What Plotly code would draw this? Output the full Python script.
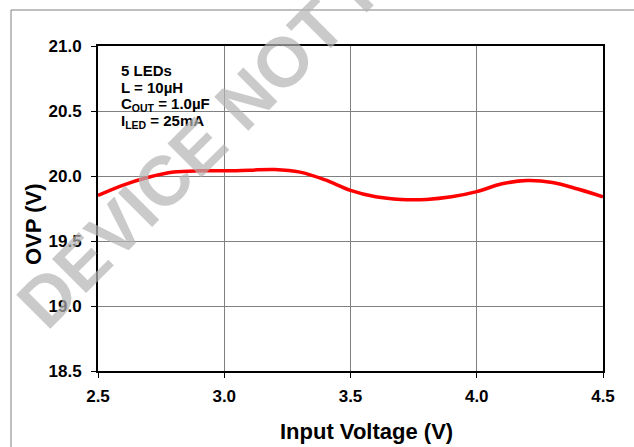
import plotly.graph_objects as go

# Data
vin = [2.5, 2.6, 2.7, 2.8, 2.9, 3.0, 3.1, 3.2, 3.3, 3.4, 3.5, 3.6, 3.7, 3.8, 3.9, 4.0, 4.1, 4.2, 4.3, 4.4, 4.5]
ovp = [19.85, 19.93, 19.99, 20.03, 20.04, 20.04, 20.045, 20.05, 20.03, 19.97, 19.89, 19.84, 19.82, 19.82, 19.84, 19.88, 19.94, 19.965, 19.95, 19.90, 19.84]
x_ticks = [2.5, 3.0, 3.5, 4.0, 4.5]
x_tick_text = ["2.5", "3.0", "3.5", "4.0", "4.5"]
y_ticks = [18.5, 19.0, 19.5, 20.0, 20.5, 21.0]
y_tick_text = ["18.5", "19.0", "19.5", "20.0", "20.5", "21.0"]
note_lines = ["5 LEDs", "L = 10µH", "C<sub>OUT</sub> = 1.0µF", "I<sub>LED</sub> = 25mA"]

W, H = 634, 447
L, R, T, B = 98, 31, 46, 76
pw, ph = W - L - R, H - T - B

def px(x):
    return (x - L) / pw

def py(y):
    return (H - B - y) / ph

FONT = "Liberation Sans, Arial, sans-serif"

fig = go.Figure()
fig.add_trace(go.Scatter(
    x=vin, y=ovp, mode="lines",
    line=dict(color="#ff0000", width=3.5, shape="spline", smoothing=1.0),
    showlegend=False, hoverinfo="skip"))

axis_common = dict(
    showline=True, linecolor="black", linewidth=2, mirror=True,
    showgrid=True, gridcolor="#808080", gridwidth=1,
    ticks="outside", ticklen=5, tickcolor="black", tickwidth=1,
    zeroline=False,
    tickfont=dict(family=FONT, size=17, color="black", weight="bold"),
)

annotations = [
    dict(text="Input Voltage (V)", xref="paper", yref="paper", x=px(366), y=py(432),
         xanchor="center", yanchor="middle",
         showarrow=False, font=dict(family=FONT, size=22, color="black", weight="bold")),
    dict(text="OVP (V)", xref="paper", yref="paper", x=px(33), y=py(224), textangle=-90,
         xanchor="center", yanchor="middle",
         showarrow=False, font=dict(family=FONT, size=22, color="black", weight="bold")),
]
for i, t in enumerate(note_lines):
    annotations.append(dict(
        text=t, xref="paper", yref="paper", x=px(119), y=py(70 + 17.3 * i),
        xanchor="left", yanchor="middle", align="left", showarrow=False,
        font=dict(family=FONT, size=15, color="black", weight="bold")))
annotations.append(dict(
    text="DEVICE NOT RECOMMENDED", xref="paper", yref="paper",
    x=px(387), y=py(-42), textangle=-45, showarrow=False,
    xanchor="center", yanchor="middle",
    font=dict(family=FONT, size=70, color="rgba(180,180,180,0.7)", weight="bold")))

fig.update_layout(
    width=W, height=H,
    margin=dict(l=L, r=R, t=T, b=B),
    paper_bgcolor="white", plot_bgcolor="white",
    xaxis=dict(range=[2.5, 4.5], tickvals=x_ticks, ticktext=x_tick_text,
               ticklabelstandoff=4, **axis_common),
    yaxis=dict(range=[18.5, 21.0], tickvals=y_ticks, ticktext=y_tick_text,
               ticklabelstandoff=6, **axis_common),
    shapes=[
        dict(type="line", xref="paper", yref="paper", x0=px(11), x1=px(11), y0=py(10), y1=py(460),
             line=dict(color="#808080", width=1)),
        dict(type="line", xref="paper", yref="paper", x0=px(11), x1=px(650), y0=py(10), y1=py(10),
             line=dict(color="#808080", width=1)),
    ],
    annotations=annotations,
)

fig.write_html("out.html", config={"displayModeBar": False},
               post_script="document.body.style.margin='0';document.body.style.padding='0';")
